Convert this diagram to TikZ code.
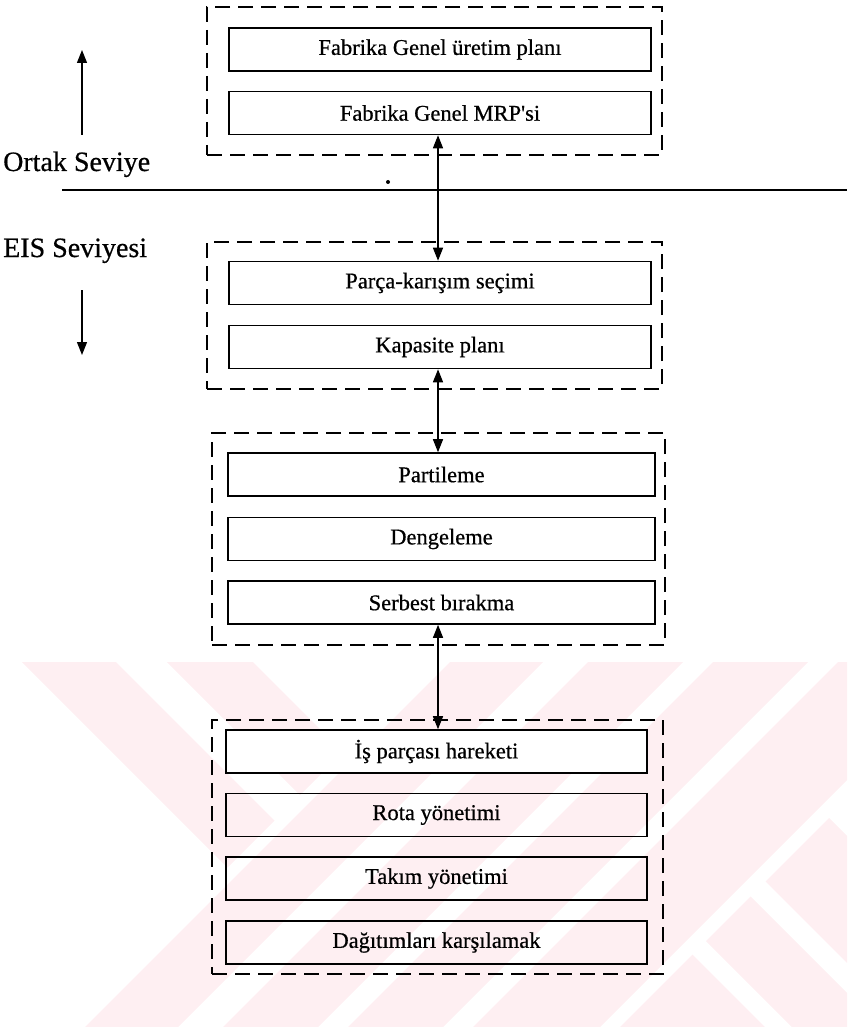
\documentclass[tikz,border=0pt]{standalone}
\usepackage{fontspec}
\setmainfont{Liberation Serif}
\newfontfamily\inkfont{Liberation Serif}[FakeBold=0.6]
\usetikzlibrary{arrows.meta}
\definecolor{wm}{RGB}{254,239,242}
\begin{document}
\begin{tikzpicture}[x=1pt,y=-1pt,
  box/.style={draw, line width=1.6pt, minimum height=43pt, inner sep=0pt,
              font=\inkfont\fontsize{22.5}{26}\selectfont},
  grp/.style={draw, dash pattern=on 15pt off 8pt, line width=2.2pt, inner sep=0pt},
  link/.style={line width=1.3pt, {Triangle[length=13pt,width=10pt]}-{Triangle[length=13pt,width=10pt]}},
  oneway/.style={line width=1.3pt, -{Triangle[length=13pt,width=10pt]}},
  lvl/.style={font=\inkfont\fontsize{28}{32}\selectfont, anchor=base west, inner sep=0pt},
  ]
\useasboundingbox (0,0) rectangle (847,1027);

% background emblem made of light diagonal bands
\begin{scope}
  \clip (0,662) rectangle (847,1027);
  \fill[wm] (-40,600) -- (54,600) -- (274.5,820.5) -- (227.5,867.5) -- cycle;
  \fill[wm] (105,600) -- (191,600) -- (343,752) -- (300,795) -- cycle;
  \fill[wm] (512,600) -- (605,600) -- (105,1100) -- (12,1100) -- cycle;
  \fill[wm] (650,600) -- (745,600) -- (245,1100) -- (150,1100) -- cycle;
  \fill[wm] (775,600) -- (870,600) -- (370,1100) -- (275,1100) -- cycle;
  \fill[wm] (900,600) -- (1027,600) -- (527,1100) -- (400,1100) -- cycle;
  \fill[wm] (829,818) -- (1111,1100) -- (984,1100) -- (765.5,881.5) -- cycle;
  \fill[wm] (750.5,896.5) -- (954,1100) -- (865,1100) -- (706,941) -- cycle;
  \fill[wm] (692.5,954.5) -- (838,1100) -- (547,1100) -- cycle;
\end{scope}

% level labels and divider
\node[lvl] (ortak) at (3,171) {Ortak Seviye};
\node[lvl] (eis) at (3,257) {EIS Seviyesi};
\coordinate (upbase) at (82,135);
\coordinate (uptip) at (82,50);
\coordinate (dnbase) at (82,290);
\coordinate (dntip) at (82,355);
\draw[oneway] (upbase) -- (uptip);
\draw[oneway] (dnbase) -- (dntip);
\coordinate (hl) at (62,190);
\coordinate (hr) at (847,190);
\draw[line width=1.8pt] (hl) -- (hr);
\fill (388,182) circle (2pt);

% plant level
\node[grp, minimum width=455pt, minimum height=148pt] (g1) at (434.5,81) {};
\node[box, minimum width=422pt] (b1) at (440,49.5) {Fabrika Genel üretim planı};
\node[box, minimum width=422pt] (b2) at (440,113) {Fabrika Genel MRP'si};

% cell level planning
\node[grp, minimum width=455pt, minimum height=147pt] (g2) at (434.5,315.5) {};
\node[box, minimum width=422pt] (b3) at (440,283) {Parça-karışım seçimi};
\node[box, minimum width=422pt] (b4) at (440,347) {Kapasite planı};

% scheduling
\node[grp, minimum width=453pt, minimum height=212pt] (g3) at (438.5,539) {};
\node[box, minimum width=427pt] (b5) at (441.5,474.5) {Partileme};
\node[box, minimum width=427pt] (b6) at (441.5,539) {Dengeleme};
\node[box, minimum width=427pt] (b7) at (441.5,602.5) {Serbest bırakma};

% shop floor control
\node[grp, minimum width=451pt, minimum height=254pt] (g4) at (437.5,847) {};
\node[box, minimum width=421pt, fill=white] (b8) at (436.5,751.5) {İş parçası hareketi};
\node[box, minimum width=421pt] (b9) at (436.5,815) {Rota yönetimi};
\node[box, minimum width=421pt] (b10) at (436.5,878.5) {Takım yönetimi};
\node[box, minimum width=421pt] (b11) at (436.5,942.5) {Dağıtımları karşılamak};

% two-way links between levels
\coordinate (ax) at (438,0);
\draw[link] (b2.south -| ax) -- (b3.north -| ax);
\draw[link] (b4.south -| ax) -- (b5.north -| ax);
\draw[link] (b7.south -| ax) -- (b8.north -| ax);
\end{tikzpicture}
\end{document}
